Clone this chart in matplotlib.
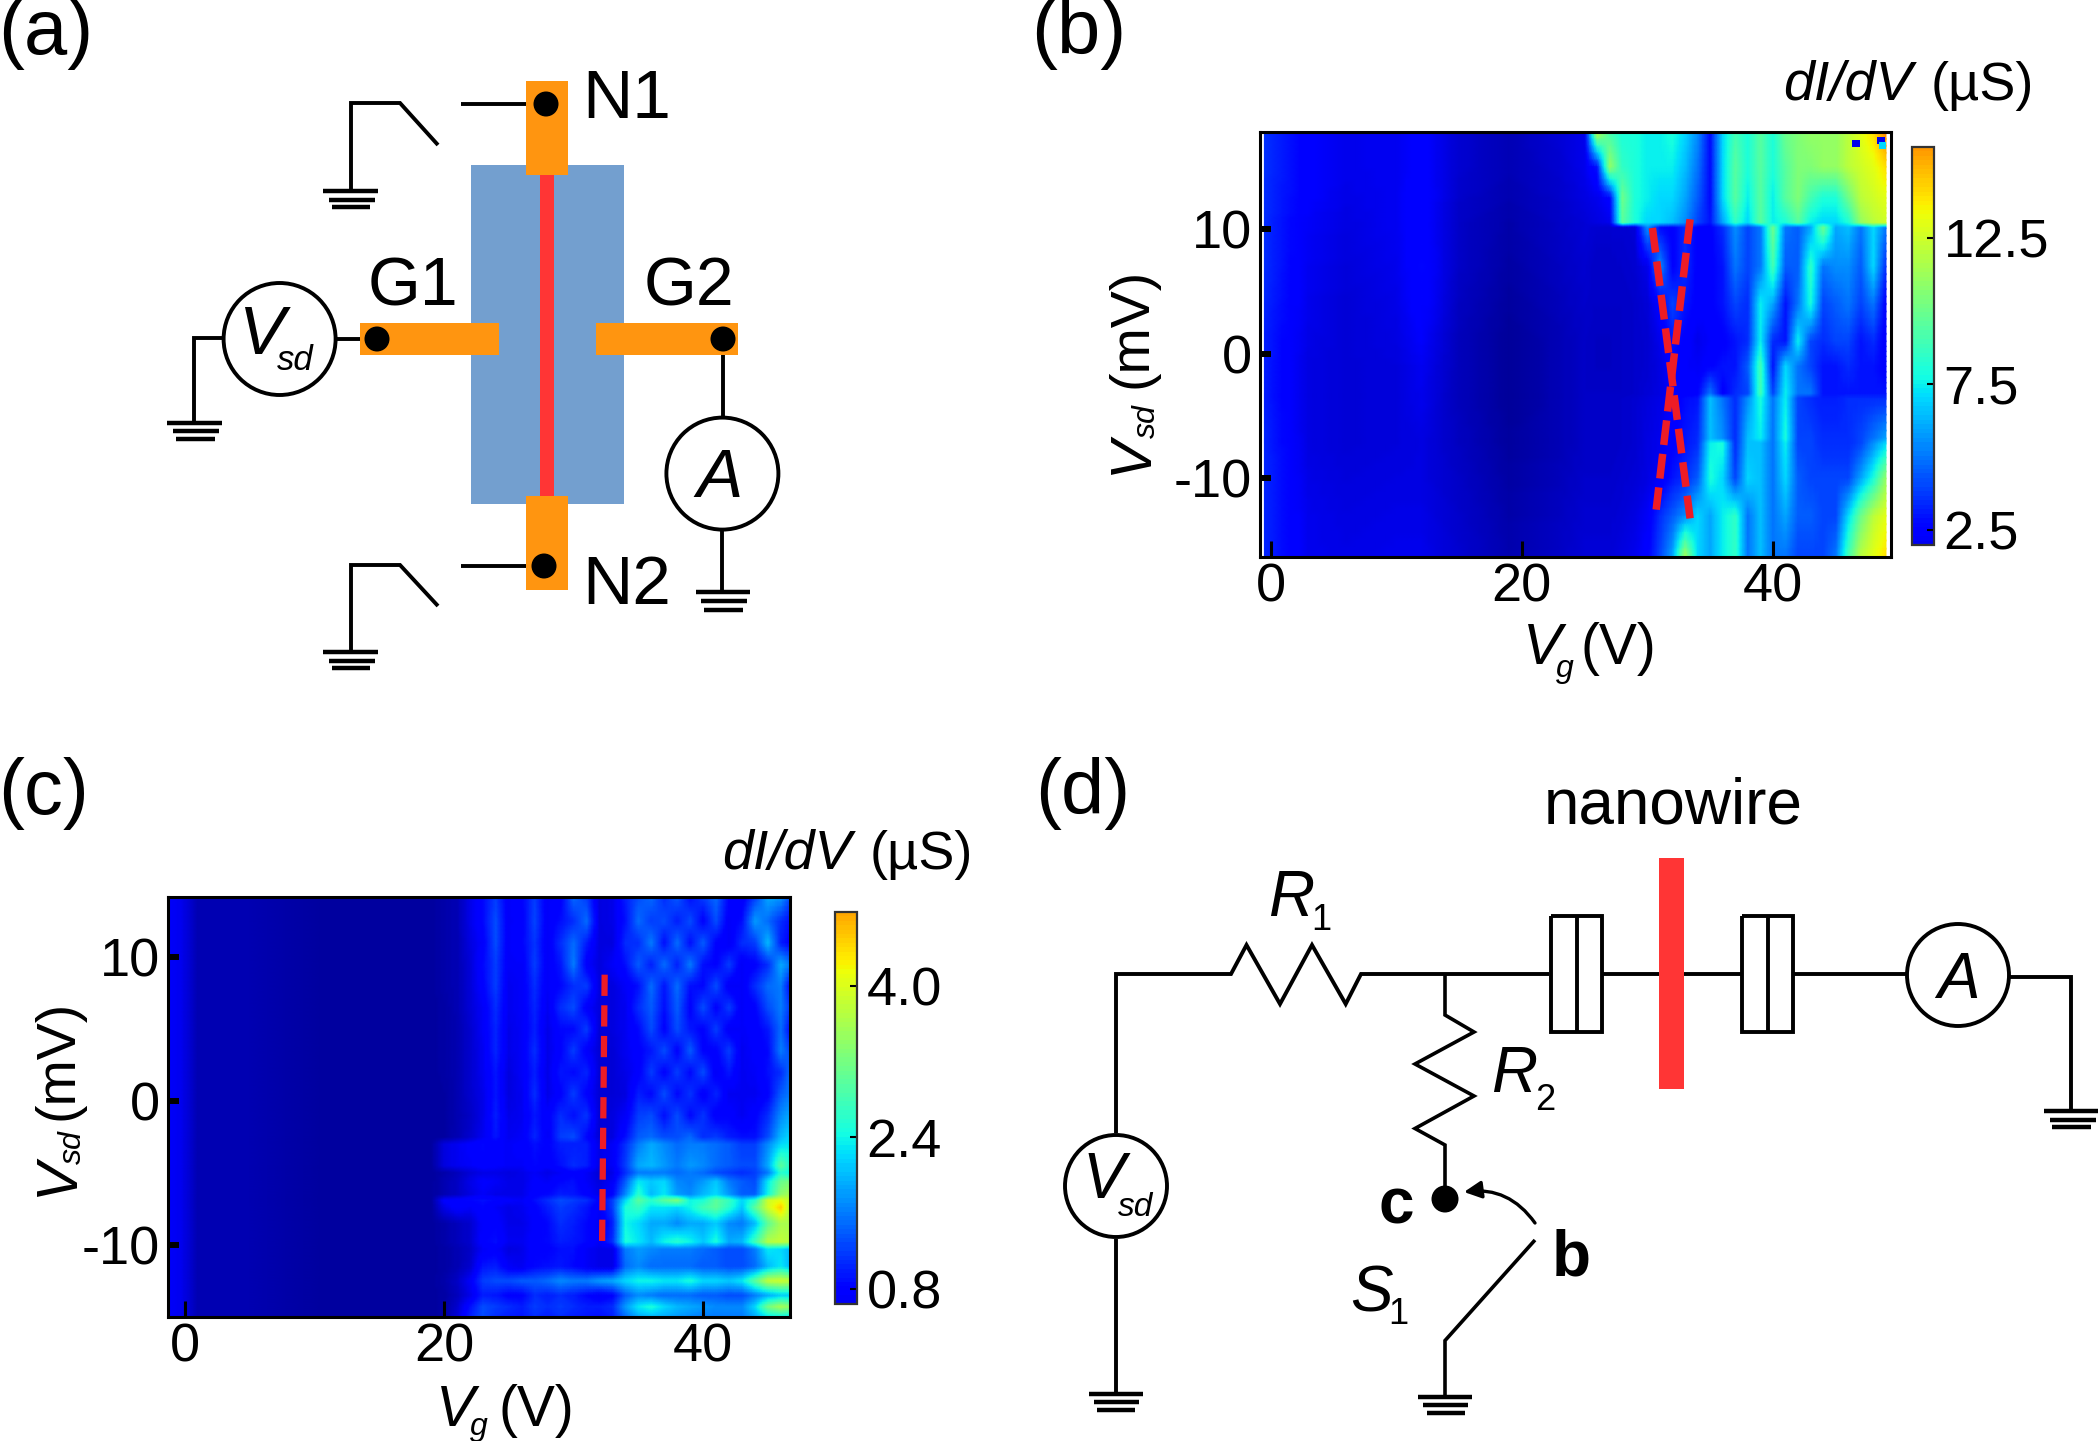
import numpy as np
import matplotlib
matplotlib.use("Agg")
import matplotlib.pyplot as plt
from matplotlib.patches import Rectangle, Circle, FancyArrowPatch
from matplotlib.colors import Normalize
from matplotlib.cm import ScalarMappable

plt.rcParams['font.family'] = ['Liberation Sans Narrow', 'Liberation Sans', 'DejaVu Sans']
plt.rcParams['axes.unicode_minus'] = False
W, H = 2098, 1441
REG = ['Liberation Sans', 'DejaVu Sans']

# ---------- panel (b) data: dI/dV (uS) ----------
b_vg = [-0.5, 3, 6, 10, 12, 15, 19, 23, 25, 26, 27, 28, 29, 30, 31, 32, 33, 34, 35, 36, 37, 38, 39,
        40, 41, 42, 43, 44, 45, 46, 47, 48, 49]
b_vsd = [17.8, 15, 12.5, 10.5, 10.1, 7, 4, 1, -1, -3.2, -3.6, -6.8, -7.2, -10, -13, -16.3]
b_left = [
    [3.6, 2.4, 2, 2.1, 2.5, 1.5, 1, 1.6, 2],
    [3.6, 2.4, 2, 2.1, 2.5, 1.5, 1, 1.5, 2],
    [3.5, 2.4, 1.9, 2.1, 2.6, 1.4, .9, 1.4, 1.8],
    [3.5, 2.2, 1.8, 2.1, 2.6, 1.3, .8, 1.3, 1.6],
    [3.5, 2.2, 1.8, 2.1, 2.6, 1.3, .8, 1.3, 1.6],
    [3.5, 2.1, 1.7, 2, 2.7, 1.3, .7, 1.2, 1.5],
    [3.4, 2, 1.6, 1.9, 2.6, 1.2, .6, 1.1, 1.4],
    [3.2, 1.9, 1.6, 1.8, 2.3, 1.1, .5, 1, 1.3],
    [3.2, 1.8, 1.6, 1.7, 2.1, 1.1, .5, 1, 1.3],
    [3.2, 1.8, 1.6, 1.7, 2, 1.1, .5, 1, 1.3],
    [3.2, 1.8, 1.6, 1.7, 2, 1.1, .5, 1, 1.3],
    [3.4, 1.8, 1.6, 1.7, 1.8, 1.2, .6, 1, 1.3],
    [3.4, 1.8, 1.6, 1.7, 1.8, 1.2, .6, 1, 1.3],
    [3.4, 1.9, 1.7, 1.8, 1.8, 1.3, .7, 1.1, 1.4],
    [3.4, 2, 1.8, 1.9, 1.9, 1.4, .8, 1.2, 1.5],
    [3.4, 2, 1.9, 2, 2, 1.5, .9, 1.3, 1.6],
]
b_right = [
    [12, 9, 8, 8, 7.5, 7.5, 8, 7, 5.5, 2.8, 7, 9, 8, 9.5, 8, 10, 10.5, 11, 11, 11, 12, 13, 14, 16],
    [3, 11, 8.5, 8, 7.5, 7.5, 7.5, 6.5, 5, 2.8, 7, 9.5, 8, 9.5, 8, 9.5, 10.5, 10.5, 11, 11, 12, 12.5, 13, 14],
    [2, 2.5, 10, 8, 7.5, 7, 7, 6, 4.5, 2.8, 7, 9.5, 7.5, 9.5, 7.5, 9.5, 10.5, 9, 8, 8, 10, 12, 12.5, 13],
    [1.8, 2, 9.5, 8, 7, 7, 6.5, 5.5, 4, 3, 6, 8.5, 7, 9.5, 7.5, 8, 9.5, 7.5, 7, 7, 8, 11, 12, 12.5],
    [1.5, 1.5, 1.5, 1.6, 5.5, 2.8, 2.5, 3.5, 2.5, 2.5, 3.5, 5.5, 4, 5, 10, 5, 4.5, 6, 10, 6, 6.5, 5, 7, 5],
    [1.3, 1.3, 1.4, 1.5, 2, 5.5, 2.5, 3.5, 2.5, 2.5, 3, 5, 4, 5, 9, 4.5, 4.5, 8.5, 5, 5.5, 5.5, 4.5, 7, 3.5],
    [1.3, 1.3, 1.3, 1.4, 1.6, 2.5, 4, 3, 2.5, 2.5, 3, 4, 3.5, 7.5, 6, 3, 5, 8, 4, 4.5, 5, 4, 5, 2.5],
    [1.2, 1.2, 1.3, 1.4, 1.5, 2, 3, 2.5, 2, 2.3, 2.5, 3, 3.5, 7.5, 3.5, 3, 7.5, 4, 3.5, 4, 4, 3, 3.5, 2.3],
    [1.2, 1.2, 1.3, 1.4, 1.5, 1.8, 2.5, 2.3, 2.2, 2.5, 3, 3, 4.5, 9, 3, 7, 5, 4, 3, 3, 3.5, 3, 3, 2.5],
    [1.3, 1.3, 1.3, 1.4, 1.6, 1.8, 2.3, 2.5, 2.5, 5, 2.5, 3.5, 4, 9, 4, 7.5, 5, 5, 3, 3, 3, 3, 3, 3],
    [1.3, 1.3, 1.4, 1.5, 1.7, 1.9, 2.3, 2.8, 3, 6.5, 5, 3.5, 5.5, 8, 5, 7.5, 4, 3.5, 3.2, 3.2, 3.5, 3.5, 3.5, 3.5],
    [1.3, 1.3, 1.4, 1.5, 1.8, 2, 2.5, 3, 3.5, 6.5, 5.5, 3.5, 6.5, 7.5, 5, 8, 4, 4, 3.5, 3.5, 3.5, 4, 5, 6],
    [1.3, 1.3, 1.4, 1.5, 1.8, 2, 2.5, 3, 3.5, 7.5, 8, 3.5, 6.5, 6.5, 5, 7.5, 4, 4, 3.5, 3.5, 3.5, 4, 5.5, 7],
    [1.4, 1.4, 1.5, 1.6, 1.8, 2.2, 3, 3.5, 4.5, 8, 7, 4, 7, 6.5, 5, 7, 4.5, 4, 4, 4, 4, 6, 8, 11],
    [1.5, 1.5, 1.6, 1.8, 2.2, 3.5, 4.5, 5.5, 7, 6, 7.5, 8.5, 5, 6.5, 5, 6, 4.5, 4.5, 4, 4, 7, 10, 12, 13],
    [1.6, 1.6, 1.8, 2, 2.5, 4, 6, 11.5, 7, 6, 7.5, 8.5, 5, 6.5, 5, 5, 4, 4, 4, 5, 9, 12, 13, 14],
]
b_hot_vg = [46.6, 48.6, 48.7]
b_hot_vsd = [16.9, 17.1, 16.7]
b_cross_1_vg = [30.4, 33.4]
b_cross_1_vsd = [10.1, -13.2]
b_cross_2_vg = [33.4, 30.7]
b_cross_2_vsd = [10.8, -12.5]

# ---------- panel (c) data: dI/dV (uS) ----------
c_vsd = [14.2, 12.5, 11, 9.5, 8, 6.5, 5, 3.5, 2, .5, -1, -2.5, -3, -4.5, -5, -5.6, -6.5, -6.9, -7.4,
         -8.5, -9.8, -10.3, -11.5, -12.5, -13.5, -14.3, -15]
c_vg_left = [-1.3, -0.3, 1, 5, 12, 19]
c_left_profile = [.7, .65, .3, .28, .18, .18]
c_vg_right = [20, 21, 22, 23, 24, 25, 26, 27, 28, 29, 30, 31, 32, 33, 34, 35, 36, 37, 38, 39, 40, 41,
              42, 43, 44, 45, 46, 46.7]
c_right = [
    [.25, .3, .6, .85, 1.2, .7, .8, 1.2, .7, .75, 1.5, 1.2, .55, .6, 1.0, 1.3, 1.5, 1.1, 1.4, .9, 1.2, 1.5, .8, .7, 1.2, 1.9, 1.8, 1.3],
    [.25, .3, .6, .85, 1.3, .7, .75, 1.25, .7, .9, 1.1, 1.5, .55, .6, .9, 1.5, 1.2, 1.3, 1.0, 1.3, .8, 1.3, .7, .9, 1.8, 1.5, 1.1, .9],
    [.25, .3, .55, .75, 1.3, .7, .8, 1.15, .7, 1.1, 1.5, 1.0, .55, .55, 1.1, 1.1, 1.6, .9, 1.5, .9, 1.4, .8, .7, 1.1, 1.2, 2.0, 1.0, .8],
    [.25, .3, .5, .85, 1.2, .7, .7, 1.2, .7, .95, 1.6, .75, .55, .7, .9, 1.4, 1.0, 1.5, 1.0, 1.6, .9, .8, 1.2, .7, .8, 1.1, 1.9, 1.6],
    [.25, .3, .5, .8, 1.2, .65, .7, 1.1, .7, .85, 1.1, 1.2, .55, .55, .7, .9, 1.5, .95, 1.5, .9, .85, 1.3, .7, .7, 1.1, 1.5, 1.6, .9],
    [.22, .3, .5, .7, 1.1, .65, .7, 1.05, .65, 1.1, 1.3, .75, .55, .55, .65, 1.1, 1.4, .9, 1.4, .8, 1.3, .8, 1.2, .7, .8, 1.3, 1.6, 1.2],
    [.22, .28, .45, .7, 1.05, .6, .7, 1.0, .6, .85, .85, 1.2, .5, .55, .65, .85, 1.3, .8, 1.3, .95, .8, 1.2, .7, .7, .75, .95, 1.5, .9],
    [.22, .28, .45, .65, 1.05, .6, .7, 1.1, .6, .8, 1.2, .75, .5, .5, .65, .8, .95, 1.3, .8, 1.4, .8, .8, 1.2, .65, .75, .85, 1.6, 1.3],
    [.22, .28, .45, .65, .95, .55, .7, 1.0, .6, .95, .85, 1.05, .5, .5, .6, .75, 1.2, .8, 1.2, .85, 1.3, .7, .95, .65, .7, .9, 1.1, 1.5],
    [.2, .28, .45, .6, .95, .55, .65, 1.1, .6, .8, 1.2, .8, .5, .5, .55, 1.0, .85, 1.3, .85, 1.15, .75, 1.05, .65, .65, .65, .8, 1.4, 1.6],
    [.2, .28, .4, .6, 1.0, .6, .65, .95, .75, 1.1, .9, 1.15, .5, .55, .7, 1.2, 1.3, .9, 1.3, .85, 1.15, .75, .8, .65, .8, 1.1, 1.7, 1.9],
    [.2, .3, .45, .65, .95, .65, .7, 1.05, .7, 1.2, 1.3, .85, .5, .55, .9, 1.4, 1.5, 1.3, 1.3, 1.5, 1.1, 1.2, 1.0, .9, .9, 1.3, 2.0, 2.2],
    [.55, .65, .75, .85, .75, .7, .75, .9, .8, 1.0, 1.0, 1.0, .6, .7, 1.1, 1.6, 1.9, 1.7, 1.5, 1.6, 1.6, 1.5, 1.4, 1.2, 1.2, 1.7, 2.2, 2.3],
    [.55, .65, .7, .8, .75, .7, .7, .85, .75, .9, 1.1, 1.0, .6, .7, 1.2, 1.9, 2.0, 1.8, 1.6, 1.8, 1.7, 1.5, 1.4, 1.3, 1.3, 1.9, 3.0, 2.6],
    [.25, .35, .5, .6, .6, .55, .6, .7, .6, .7, .8, .7, .5, .6, 1.1, 1.6, 1.6, 1.6, 1.5, 1.6, 1.5, 1.3, 1.2, 1.1, 1.2, 1.6, 2.6, 2.4],
    [.3, .4, .6, .75, .7, .6, .6, .75, .7, .85, .9, .7, .55, .7, 1.4, 2.3, 2.1, 2.2, 1.7, 1.6, 1.8, 2.1, 1.6, 1.4, 1.3, 2.3, 3.1, 3.2],
    [.3, .4, .55, .7, .6, .6, .6, .8, .85, 1.0, .95, .8, .6, .8, 1.7, 2.6, 2.0, 2.3, 1.8, 1.7, 2.0, 2.2, 1.8, 1.4, 1.4, 2.4, 3.4, 3.6],
    [.75, .8, .85, .9, .85, .75, .7, .9, 1.1, 1.3, 1.2, 1.1, .8, 1.2, 2.2, 3.0, 2.6, 3.0, 3.3, 2.4, 2.5, 3.0, 2.7, 2.2, 2.6, 3.9, 4.1, 3.8],
    [.6, .8, .7, .85, .7, .6, .65, .8, 1.0, 1.2, 1.1, .95, .7, 1.2, 2.5, 2.7, 2.3, 2.3, 2.2, 2.4, 2.8, 3.0, 2.6, 2.1, 3.0, 3.9, 4.5, 3.7],
    [.25, .35, .45, .75, .8, .6, .6, .75, .85, 1.1, 1.0, .85, .65, 1.0, 2.4, 2.2, 1.9, 1.9, 1.7, 1.9, 1.9, 2.1, 1.7, 1.6, 2.0, 3.0, 3.6, 3.6],
    [.25, .35, .45, .8, .9, .65, .65, .8, .85, 1.0, .95, .85, .7, 1.1, 2.5, 2.3, 2.0, 2.4, 2.6, 2.4, 2.1, 2.5, 1.9, 2.0, 2.8, 3.7, 3.8, 3.7],
    [.22, .3, .4, .7, .75, .55, .6, .8, .8, .9, .9, .7, .6, .6, 1.6, 1.8, 1.7, 1.6, 1.6, 1.6, 1.5, 1.4, 1.3, 1.3, 1.6, 2.3, 2.2, 2.0],
    [.22, .3, .45, .95, 1.0, .7, .65, .85, .9, .95, .85, .7, .6, .6, 1.5, 1.7, 1.5, 1.5, 1.5, 1.5, 1.4, 1.4, 1.3, 1.3, 1.5, 2.0, 2.3, 2.0],
    [.25, .4, .7, 1.2, 1.3, 1.3, 1.4, 1.4, 1.5, 1.7, 1.6, 1.6, 1.8, 1.9, 2.2, 2.4, 2.4, 2.3, 2.3, 2.5, 2.2, 2.2, 2.1, 2.3, 3.0, 3.8, 3.9, 3.8],
    [.22, .35, .6, 1.0, .95, .8, .8, 1.1, 1.0, 1.1, 1.0, .85, .7, .8, 1.4, 1.7, 1.6, 1.5, 1.5, 1.5, 1.4, 1.4, 1.3, 1.3, 1.6, 1.9, 2.1, 2.1],
    [.22, .45, .9, 1.3, 1.2, 1.1, 1.0, 1.2, 1.1, 1.2, 1.1, 1.0, 1.0, 1.1, 1.8, 2.3, 2.5, 2.2, 2.0, 1.9, 1.8, 1.7, 1.7, 1.7, 2.2, 3.2, 3.6, 3.4],
    [.22, .5, 1.0, 1.3, 1.1, 1.0, .95, 1.1, 1.0, 1.1, 1.0, .95, .9, 1.0, 1.5, 1.9, 2.0, 1.9, 1.8, 1.7, 1.6, 1.6, 1.6, 1.6, 1.9, 2.3, 2.4, 2.3],
]
c_line_vg = [32.4, 32.2]
c_line_vsd = [8.8, -10]

vg_ticks_b = [0, 20, 40]
vg_ticks_c = [0, 20, 40]
vsd_ticks = [-10, 0, 10]
cbar_ticks_b = [2.5, 7.5, 12.5]
cbar_ticks_c = [0.8, 2.4, 4.0]

RED = '#ee1c25'
fig = plt.figure(figsize=(W / 100, H / 100), dpi=100)

def add_px_axes(l, t, r, b):
    return fig.add_axes([l / W, 1 - b / H, (r - l) / W, (b - t) / H])

def fine_mesh(v, n=5):
    # sub-divide each grid cell so colours blend through the colormap, not straight through RGB
    idx = np.concatenate([np.linspace(i, i + 1, n, endpoint=False) for i in range(len(v) - 1)] + [[len(v) - 1.0]])
    return idx, np.interp(idx, np.arange(len(v)), v)

def heat(box, xs, ys, z, xlim, ylim, vmax, xticks):
    ax = add_px_axes(*box)
    norm = Normalize(0, vmax)
    ax.set_facecolor('white')
    xi, xf = fine_mesh(xs)
    yi, yf = fine_mesh(ys)
    zx = np.array([np.interp(xi, np.arange(len(xs)), row) for row in z])
    zf = np.array([np.interp(yi, np.arange(len(ys)), col) for col in zx.T]).T
    ax.pcolormesh(xf, yf, zf, shading='gouraud', cmap='jet', norm=norm)
    ax.set_xlim(*xlim)
    ax.set_ylim(*ylim)
    ax.set_xticks(xticks)
    ax.set_yticks(vsd_ticks)
    ax.tick_params(axis='x', direction='in', length=11.5, width=2.2, labelsize=39, pad=4)
    ax.tick_params(axis='y', direction='in', length=8, width=4.3, labelsize=39, pad=6)
    for s in ax.spines.values():
        s.set_linewidth(2.2)
    return ax, norm

def cbar(box, norm, lo, hi, ticks):
    cax = add_px_axes(*box)
    sm = ScalarMappable(norm=norm, cmap='jet')
    cb = fig.colorbar(sm, cax=cax, boundaries=np.linspace(lo, hi, 90), ticks=ticks, spacing='proportional')
    cb.ax.set_yticklabels([f'{t:.1f}' for t in ticks])
    cb.ax.tick_params(axis='y', direction='in', length=5, width=1.5, labelsize=39, pad=7)
    cb.outline.set_linewidth(1.6)
    cb.outline.set_edgecolor('#333333')
    return cb

# panel b
z_b = np.hstack([np.array(b_left), np.array(b_right)])
ax_b, norm_b = heat((1260, 132, 1891, 557), b_vg, b_vsd, z_b, (-0.85, 49.4), (-16.3, 17.8), 20.8, vg_ticks_b)
ax_b.scatter(b_hot_vg, b_hot_vsd, marker='s', s=28, c=[2, 2, 7], cmap='jet', norm=norm_b, linewidths=0)
for xs, ys in ((b_cross_1_vg, b_cross_1_vsd), (b_cross_2_vg, b_cross_2_vsd)):
    ax_b.plot(xs, ys, color=RED, lw=5.4, dashes=(3.3, 1.2))
cbar((1912, 147, 1934, 545), norm_b, 2.0, 15.6, cbar_ticks_b)

# panel c
z_c = np.hstack([np.tile(c_left_profile, (len(c_vsd), 1)), np.array(c_right)])
ax_c, norm_c = heat((168, 897, 790, 1317), c_vg_left + c_vg_right, c_vsd, z_c, (-1.29, 46.7), (-15.0, 14.2), 6.5, vg_ticks_c)
ax_c.plot(c_line_vg, c_line_vsd, color=RED, lw=4.5, dashes=(3.4, 1.5))
cbar((835, 912, 857, 1304), norm_c, 0.64, 4.78, cbar_ticks_c)

# overlay in pixel coordinates for schematics and labels
ov = fig.add_axes([0, 0, 1, 1], zorder=10)
ov.set_xlim(0, W)
ov.set_ylim(H, 0)
ov.axis('off')
ov.patch.set_alpha(0)
LW = 2.8

def wire(*pts, lw=LW):
    xs, ys = zip(*pts)
    ov.plot(xs, ys, color='k', lw=lw, solid_capstyle='butt', solid_joinstyle='miter')

def rect(x0, y0, x1, y1, c, z=1):
    ov.add_patch(Rectangle((x0, y0), x1 - x0, y1 - y0, fc=c, ec='none', zorder=z))

def dot(x, y, r=12.5):
    ov.add_patch(Circle((x, y), r, fc='k', ec='none', zorder=5))

def ring(x, y, r):
    ov.add_patch(Circle((x, y), r, fc='white', ec='k', lw=2.8, zorder=4))

def ground(x0a, x1a, ya, x0b, x1b, yb, x0c, x1c, yc):
    wire((x0a, ya), (x1a, ya), lw=3.2)
    wire((x0b, yb), (x1b, yb), lw=3.2)
    wire((x0c, yc), (x1c, yc), lw=3.2)

def T(x, y, s, size=39, style='normal', weight='normal', ha='center', va='center', rot=0, fam=None):
    ov.text(x, y, s, fontsize=size, style=style, weight=weight, ha=ha, va=va, rotation=rot,
            family=fam or plt.rcParams['font.family'], zorder=8)

# panel a schematic
rect(471, 165, 623.5, 503.5, '#739fcf', 1)
rect(540, 174, 554, 496, '#ff3535', 2)
rect(526, 80.6, 568, 175, '#ff9510', 3)
rect(526, 496, 568, 590, '#ff9510', 3)
rect(360, 323, 499, 355, '#ff9510', 3)
rect(596, 322.5, 738, 355, '#ff9510', 3)
for p in ((546, 104), (544, 566), (377, 339), (723, 339)):
    dot(*p)
wire((461, 104), (546, 104))
wire((351, 191), (351, 103), (400, 103), (438, 145))
ground(323.4, 378, 191, 328.6, 375, 200, 331.6, 370, 207)
wire((461, 566), (544, 566))
wire((351, 652), (351, 565), (400, 565), (438, 606))
ground(323.4, 378, 652, 328.6, 375, 661, 331.6, 370, 668)
ring(279.6, 339, 56)
wire((336, 339), (377, 339))
wire((222, 338), (194, 338), (194, 423))
ground(167, 222, 423, 172.5, 219, 431, 175.5, 214.6, 439)
ring(722.4, 473.6, 56)
wire((723, 339), (723, 416))
wire((722, 530), (722, 592))
ground(696, 750, 592, 701, 747, 601, 704, 743, 609.5)
T(262, 336, 'V', 50, 'italic')
T(295, 360, 'sd', 25, 'italic')
T(720, 479, 'A', 50, 'italic')
T(413, 288, 'G1', 49)
T(689, 288, 'G2', 49)
T(582, 100, 'N1', 50, ha='left')
T(582, 586, 'N2', 50, ha='left')

# panel labels
T(-2, 34, '(a)', 56, ha='left', fam=REG)
T(1031, 34, '(b)', 56, ha='left', fam=REG)
T(-2, 793, '(c)', 56, ha='left', fam=REG)
T(1035, 793, '(d)', 56, ha='left', fam=REG)

# panel b labels
T(1913, 86, 'dI/dV', 40, 'italic', ha='right', fam=REG)
T(1931, 86, '(µS)', 39, ha='left', fam=REG)
T(1542, 649, 'V', 42, 'italic')
T(1565, 669, 'g', 23, 'italic')
T(1580, 649, '(V)', 41, ha='left')
T(1132, 455, 'V', 42, 'italic', rot=90)
T(1147, 421, 'sd', 23, 'italic', rot=90)
T(1132, 328, '(mV)', 40, rot=90)

# panel c labels
T(852, 855, 'dI/dV', 40, 'italic', ha='right', fam=REG)
T(870, 855, '(µS)', 39, ha='left', fam=REG)
T(455, 1411, 'V', 42, 'italic')
T(479, 1427, 'g', 23, 'italic')
T(498, 1411, '(V)', 41, ha='left')
T(58, 1177, 'V', 42, 'italic', rot=90)
T(73, 1147, 'sd', 23, 'italic', rot=90)
T(58, 1060, '(mV)', 40, rot=90)

# panel d schematic
rect(1659, 858, 1684, 1088.5, '#ff3535', 3)
wire((1116, 1133), (1116, 974), (1231, 974), (1246.5, 945), (1280, 1004), (1312, 945), (1345.7, 1004),
     (1361, 974), (1549, 974))
wire((1602, 974), (1659, 974))
wire((1684, 974), (1742, 974))
wire((1793, 974), (1907, 974))
for a, m, b in ((1551, 1576.5, 1602), (1742, 1767.5, 1793)):
    wire((a, 915.5), (a, 1032), (b, 1032), (b, 915.5), (a, 915.5))
    wire((m, 915.5), (m, 1032))
ring(1958, 975, 51)
wire((2010, 976.5), (2071, 976.5), (2071, 1111))
ground(2044, 2098, 1111, 2050, 2096, 1120, 2052, 2091, 1127)
wire((1445, 974), (1445, 1015), (1474, 1032), (1415, 1064), (1474, 1096), (1415, 1128.5), (1445, 1145),
     (1445, 1199), lw=2.6)
dot(1445, 1199, 13.5)
ov.add_patch(FancyArrowPatch((1535, 1223), (1464, 1192), connectionstyle='arc3,rad=0.3', arrowstyle='-|>',
                             mutation_scale=26, lw=2.4, color='k', zorder=6, shrinkA=0, shrinkB=0))
wire((1535, 1240), (1445, 1340.6), (1445, 1396), lw=2.6)
ground(1418, 1472, 1396.6, 1423, 1468, 1405, 1427, 1465, 1413)
ring(1116, 1186, 51)
wire((1116, 1239), (1116, 1393))
ground(1089, 1143, 1393.6, 1094, 1139, 1401.6, 1097, 1134.5, 1410)
T(1104, 1181, 'V', 46, 'italic')
T(1136, 1207, 'sd', 24, 'italic')
T(1958, 981, 'A', 46, 'italic')
T(1291, 899, 'R', 46, 'italic')
T(1321, 921, '1', 26)
T(1514, 1075, 'R', 46, 'italic')
T(1545, 1100, '2', 26)
T(1371, 1294, 'S', 46, 'italic')
T(1398, 1314, '1', 26)
T(1396, 1206, 'c', 46, weight='bold', fam=REG)
T(1571, 1259, 'b', 46, weight='bold', fam=REG)
T(1673, 807, 'nanowire', 46)

fig.savefig('out.png', dpi=100)
